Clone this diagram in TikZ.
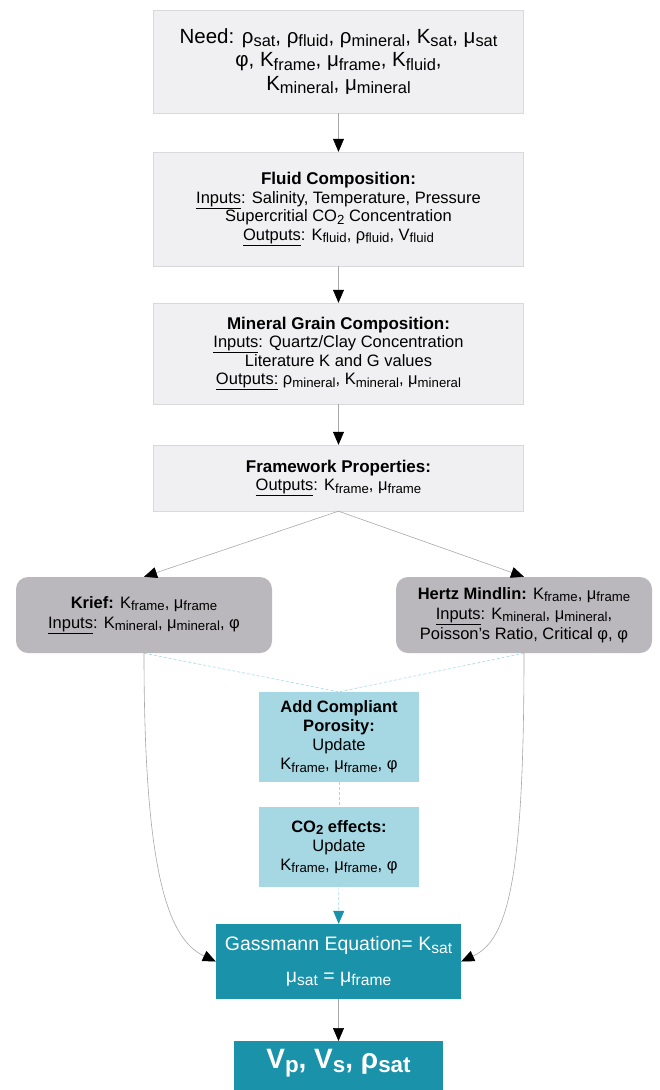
\documentclass[tikz,border=0pt]{standalone}
\usepackage{fontspec}
\setmainfont{Liberation Sans}
\usetikzlibrary{arrows.meta}
\definecolor{boxgray}{HTML}{F0F0F2}
\definecolor{boxline}{HTML}{D9D9DB}
\definecolor{modgray}{HTML}{BAB8BC}
\definecolor{paleblue}{HTML}{A6D8E4}
\definecolor{gassteal}{HTML}{1992AA}
\definecolor{linegray}{HTML}{A8A8A8}
\makeatletter
\newcommand{\sbs}[1]{\raisebox{-.3ex}{\fontsize{\strip@pt\dimexpr0.8\dimexpr\f@size pt\relax\relax}{0}\selectfont #1}}
\makeatother
\begin{document}
\begin{tikzpicture}  % ------ chaine de calcul : Gassmann -------
      [x=1pt,y=-1pt,
       infobox/.style={draw=boxline,fill=boxgray,minimum width=370pt,align=center,
                       font=\fontsize{16.5}{18.5}\selectfont},
       modelbox/.style={fill=modgray,rounded corners=12pt,minimum width=256pt,minimum height=76pt,
                       align=center,font=\fontsize{16.5}{20}\selectfont},
       updatebox/.style={fill=paleblue,minimum width=160pt,align=center,
                       font=\fontsize{16.5}{19}\selectfont},
       resultbox/.style={fill=gassteal,text=white,align=center},
       fleche/.style={draw=linegray,line width=.6pt,-{Triangle[length=13pt,width=11pt,color=black]}},
       tirets/.style={draw=paleblue,line width=.6pt,dash pattern=on 3pt off 2pt}]

    \useasboundingbox (0,0) rectangle (659,1090);

    \node[infobox,minimum height=103pt,font=\fontsize{20.5}{23.5}\selectfont] (need) at (338.5,61.5)
      {Need: ρ\sbs{sat}, ρ\sbs{fluid}, ρ\sbs{mineral}, K\sbs{sat}, μ\sbs{sat}\\
       φ, K\sbs{frame}, μ\sbs{frame}, K\sbs{fluid},\\ K\sbs{mineral}, μ\sbs{mineral}};
    \node[infobox,minimum height=114pt] (fluid) at (338.5,209)
      {{\bfseries\fontsize{17}{18.5}\selectfont Fluid Composition:}\\ \underline{Inputs}: Salinity, Temperature, Pressure\\
       Supercritial CO\sbs{2} Concentration\\ \underline{Outputs}: K\sbs{fluid}, ρ\sbs{fluid}, V\sbs{fluid}};
    \node[infobox,minimum height=101pt] (mineral) at (338.5,353.5)
      {{\bfseries\fontsize{17}{18.5}\selectfont Mineral Grain Composition:}\\ \underline{Inputs}: Quartz/Clay Concentration\\
       Literature K and G values\\ \underline{Outputs:} ρ\sbs{mineral}, K\sbs{mineral}, μ\sbs{mineral}};
    \node[infobox,minimum height=66pt] (frame) at (338.5,478)
      {{\bfseries\fontsize{17}{18.5}\selectfont Framework Properties:}\\ \underline{Outputs}: K\sbs{frame}, μ\sbs{frame}};

    \node[modelbox] (krief) at (144,615)
      {\textbf{Krief:} K\sbs{frame}, μ\sbs{frame}\\ \underline{Inputs}: K\sbs{mineral}, μ\sbs{mineral}, φ};
    \node[modelbox] (hertz) at (524,615)
      {\textbf{Hertz Mindlin:} K\sbs{frame}, μ\sbs{frame}\\ \underline{Inputs}: K\sbs{mineral}, μ\sbs{mineral},\\
       Poisson’s Ratio, Critical φ, φ};

    \node[updatebox,minimum height=90pt] (compliant) at (339,737)
      {\textbf{Add Compliant}\\ \textbf{Porosity:}\\ Update\\ K\sbs{frame}, μ\sbs{frame}, φ};
    \node[updatebox,minimum height=80pt] (coeff) at (339,847)
      {\textbf{CO\sbs{2} effects:}\\ Update\\ K\sbs{frame}, μ\sbs{frame}, φ};

    \node[resultbox,minimum width=245pt,minimum height=75pt,font=\fontsize{19.5}{32}\selectfont] (gass) at (338.5,961.5)
      {Gassmann Equation= K\sbs{sat}\\ μ\sbs{sat} = μ\sbs{frame}};
    \node[resultbox,anchor=north,minimum width=209pt,text height=22pt,text depth=35pt,inner ysep=5pt,
          font=\fontsize{28}{30}\selectfont\bfseries] (vel) at (338.5,1041) {V\sbs{p}, V\sbs{s}, ρ\sbs{sat}};

    \draw[fleche] (need) -- (fluid);
    \draw[fleche] (fluid) -- (mineral);
    \draw[fleche] (mineral) -- (frame);
    \draw[fleche] (frame.south) -- (krief.north);
    \draw[fleche] (frame.south) -- (hertz.north);

    \draw[tirets] (krief.south) -- (compliant.north);
    \draw[tirets] (hertz.south) -- (compliant.north);
    \draw[tirets] (compliant) -- (coeff);
    \draw[tirets,-{Triangle[length=13pt,width=11pt,color=gassteal]}] (coeff) -- (gass);

    \draw[fleche] (krief.south) .. controls (144,880) and (170,940) .. (gass.west);  % Krief -> Gassmann
    \draw[fleche] (hertz.south) .. controls (524,880) and (508,940) .. (gass.east);  % Hertz -> Gassmann
    \draw[fleche] (gass) -- (vel);
\end{tikzpicture}
\end{document}
